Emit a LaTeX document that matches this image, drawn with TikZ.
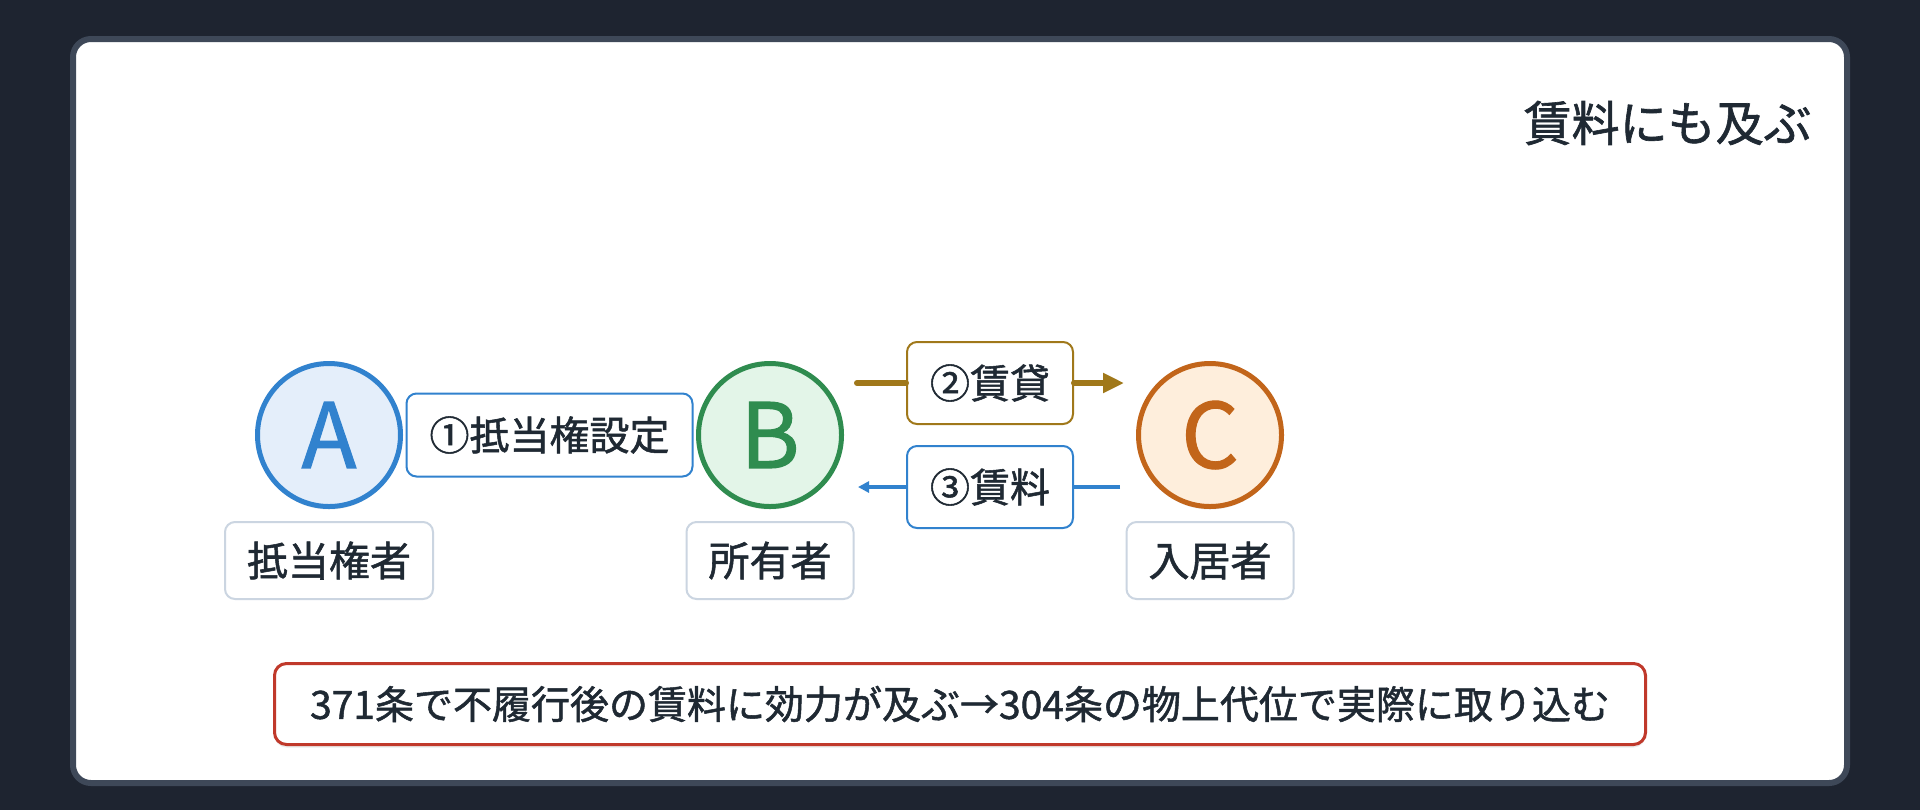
\documentclass[tikz,border=0pt]{standalone}
\usepackage{fontspec}
\setmainfont{Noto Sans CJK JP}[FakeBold=1.3]
\usepackage{tikz}
\usetikzlibrary{arrows.meta,positioning,calc,shadows}
\newlength{\px}
\setlength{\px}{0.5pt}
\definecolor{bgdark}{HTML}{1E2430}
\definecolor{cardline}{HTML}{3E4858}
\definecolor{ink}{HTML}{1F2933}
\definecolor{ablue}{HTML}{3182CE}
\definecolor{afill}{HTML}{E4EEFA}
\definecolor{bgreen}{HTML}{2F8C4F}
\definecolor{bfill}{HTML}{E3F5E8}
\definecolor{corange}{HTML}{C2651A}
\definecolor{cfill}{HTML}{FEEEDC}
\definecolor{leasebrown}{HTML}{A0781A}
\definecolor{notered}{HTML}{C0392B}
\definecolor{labelgray}{HTML}{CBD5E1}
\tikzset{
  softshadow/.style={drop shadow={shadow xshift=0pt, shadow yshift=-3\px, opacity=0.08, fill=black}},
  party/.style={circle, minimum size=143\px, line width=5\px, softshadow,
    font=\fontsize{45}{45}\selectfont},
  rolebox/.style={draw=labelgray, line width=2\px, rounded corners=10\px, fill=white,
    text=ink, inner xsep=22\px, minimum height=77\px, font=\fontsize{20.5}{24}\selectfont},
  flowbox/.style={fill=white, line width=2\px, rounded corners=10\px, text=ink,
    inner xsep=23\px, minimum height=82\px, font=\fontsize{20}{24}\selectfont},
  leaseline/.style={leasebrown, line width=6\px, line cap=round},
  rentline/.style={ablue, line width=4\px}
}

\begin{document}
\begin{tikzpicture}[x=0.5pt,y=-0.5pt]
  % page and card
  \useasboundingbox (0,0) rectangle (1920,810);
  \fill[bgdark] (0,0) rectangle (1920,810);
  \draw[cardline, line width=6\px, fill=white, rounded corners=18\px] (73,39) rectangle (1847,783);

  % title
  \node[anchor=east, inner sep=0pt, text=ink, font=\fontsize{24}{28}\selectfont] (title) at (1812,123) {賃料にも及ぶ};

  % parties
  \node[party, draw=ablue, fill=afill, text=ablue] (A) at (329,435) {A};
  \node[party, draw=bgreen, fill=bfill, text=bgreen] (B) at (770,435) {B};
  \node[party, draw=corange, fill=cfill, text=corange] (C) at (1210,435) {C};

  % roles
  \node[rolebox, below=12\px of A] (Arole) {抵当権者};
  \node[rolebox, below=12\px of B] (Brole) {所有者};
  \node[rolebox, below=12\px of C] (Crole) {入居者};

  % relations
  \node[flowbox, draw=ablue, minimum height=83\px] (mortgage) at ($(A)!0.5!(B)$) {①抵当権設定};
  \node[flowbox, draw=leasebrown] (lease) at ($(B)!0.5!(C)+(0,-52)$) {②賃貸};
  \node[flowbox, draw=ablue] (rent) at ($(B)!0.5!(C)+(0,52)$) {③賃料};

  \draw[leaseline] ($(B.east |- lease.west)+(13,0)$) -- (lease.west);
  \draw[leaseline, -{Triangle[length=10.5pt,width=9.5pt]}] (lease.east) -- ($(C.west |- lease.east)+(-12,0)$);
  \draw[rentline] ($(C.west |- rent.east)+(-16,0)$) -- (rent.east);
  \draw[rentline, -{Triangle[length=5.5pt,width=5.5pt]}] (rent.west) -- ($(B.east |- rent.west)+(14,0)$);

  % note
  \node[draw=notered, line width=3\px, rounded corners=12\px, fill=white, softshadow,
    minimum width=1371\px, minimum height=81\px, text=ink,
    font=\fontsize{19.5}{22}\selectfont] (note) at (960,704) {371条で不履行後の賃料に効力が及ぶ→304条の物上代位で実際に取り込む};
\end{tikzpicture}
\end{document}
